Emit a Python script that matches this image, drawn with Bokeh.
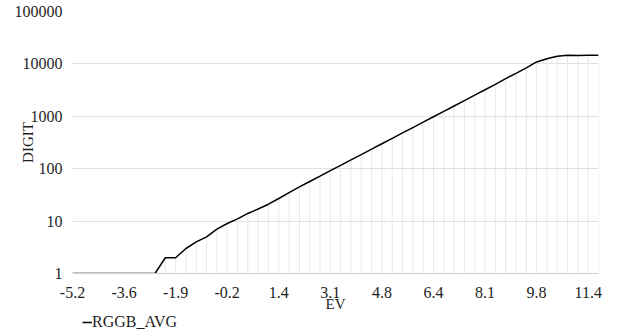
from bokeh.plotting import figure
from bokeh.layouts import column
from bokeh.models import Range1d, FixedTicker, NumeralTickFormatter, Legend, LegendItem
from bokeh.embed import file_html
from bokeh.resources import INLINE

# x categories (index of EV step) and their labels
tick_labels = ["-5.2", "-3.6", "-1.9", "-0.2", "1.4", "3.1", "4.8", "6.4", "8.1", "9.8", "11.4"]
tick_positions = [0, 5, 10, 15, 20, 25, 30, 35, 40, 45, 50]

rggb_avg = [1, 1, 1, 1, 1, 1, 1, 1, 1, 2,
            2, 3, 4, 5, 7, 9, 11, 14, 17, 21,
            27, 35, 45, 57, 72, 92, 116, 147, 186, 236,
            299, 379, 481, 610, 773, 980, 1242, 1574, 1995, 2530,
            3206, 4064, 5250, 6600, 8400, 10900, 12500, 14000, 14600, 14500,
            14700, 14700]
xs = list(range(len(rggb_avg)))
series_name = "RGGB_AVG"

FONT = "Liberation Serif"
TXT = "#1e1e1e"

p = figure(width=619, height=314, output_backend="svg", toolbar_location=None,
           y_axis_type="log",
           x_range=Range1d(0, len(rggb_avg) - 1), y_range=Range1d(1, 100000),
           min_border_left=72, min_border_right=21, min_border_top=11, min_border_bottom=40)
p.outline_line_color = None
p.background_fill_color = "white"

# drop lines
p.segment(x0=xs, y0=[1] * len(xs), x1=xs, y1=rggb_avg, line_color="#e8e8e8", line_width=1)
line = p.line(xs, rggb_avg, line_color="#000000", line_width=1.5)

p.xgrid.grid_line_color = None
p.ygrid.grid_line_color = "#e0e0e0"
p.ygrid.grid_line_width = 1

p.yaxis.ticker = FixedTicker(ticks=[1, 10, 100, 1000, 10000, 100000], minor_ticks=[])
p.yaxis.formatter = NumeralTickFormatter(format="0")
p.yaxis.axis_line_color = None
p.yaxis.major_tick_line_color = None
p.yaxis.minor_tick_line_color = None
p.yaxis.major_label_standoff = 4
p.yaxis.axis_label = "DIGIT"
p.yaxis.axis_label_standoff = -24
p.yaxis.axis_label_text_font = FONT
p.yaxis.axis_label_text_font_style = "normal"
p.yaxis.axis_label_text_font_size = "15px"
p.yaxis.axis_label_text_color = TXT
p.yaxis.major_label_text_font = FONT
p.yaxis.major_label_text_font_size = "16px"
p.yaxis.major_label_text_color = TXT

p.xaxis.ticker = FixedTicker(ticks=tick_positions, minor_ticks=[])
p.xaxis.major_label_overrides = {pos: lab for pos, lab in zip(tick_positions, tick_labels)}
p.xaxis.axis_line_color = "#d0d0d0"
p.xaxis.axis_line_width = 1
p.xaxis.major_tick_line_color = None
p.xaxis.minor_tick_line_color = None
p.xaxis.major_label_standoff = 7
p.xaxis.axis_label = "EV"
p.xaxis.axis_label_standoff = -5
p.xaxis.axis_label_text_font = FONT
p.xaxis.axis_label_text_font_style = "normal"
p.xaxis.axis_label_text_font_size = "15px"
p.xaxis.axis_label_text_color = TXT
p.xaxis.major_label_text_font = FONT
p.xaxis.major_label_text_font_size = "16px"
p.xaxis.major_label_text_color = TXT

# legend strip below the chart (its frame is aligned with the chart frame)
p2 = figure(width=619, height=18, output_backend="svg", toolbar_location=None,
            x_axis_location=None, y_axis_location=None,
            x_range=Range1d(1000, 1001), y_range=Range1d(0, 1),
            min_border_left=0, min_border_right=0, min_border_top=0, min_border_bottom=0)
p2.outline_line_color = None
p2.grid.grid_line_color = None
legend_line = p2.line(xs, rggb_avg, line_color="#000000", line_width=1.5)
legend = Legend(items=[LegendItem(label=series_name, renderers=[legend_line])],
                location=(10, 1), orientation="horizontal",
                glyph_width=10, glyph_height=16, label_standoff=0,
                padding=0, margin=0, spacing=0,
                border_line_color=None, background_fill_alpha=0,
                label_text_font=FONT, label_text_font_size="16px",
                label_text_color=TXT, label_height=16)
p2.add_layout(legend)

layout = column(p, p2, spacing=0)
open("out.html", "w").write(file_html(layout, INLINE))
